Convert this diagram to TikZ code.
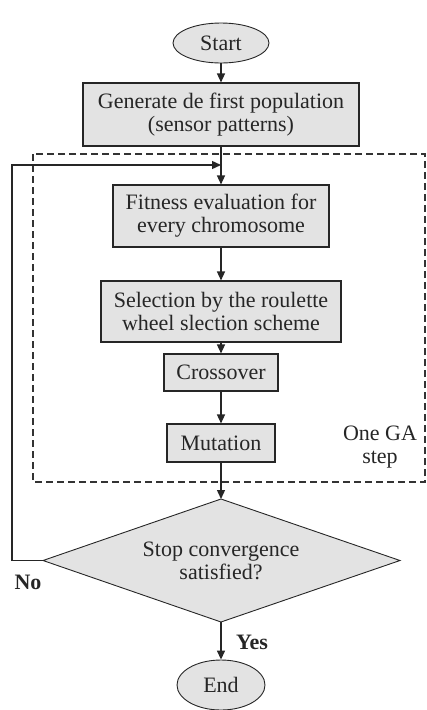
\documentclass[tikz,border=0pt]{standalone}
\usepackage{fontspec}
\setmainfont{Liberation Serif}
\usetikzlibrary{shapes.geometric,arrows.meta}
\begin{document}
\begin{tikzpicture}[x=1pt,y=-1pt,
  every node/.style={font=\fontsize{22}{23}\selectfont, text=black!85},
  proc/.style={draw=black!85, fill=black!11, line width=1.1pt, inner sep=0pt, align=center},
  term/.style={ellipse, draw=black!85, fill=black!11, line width=0.9pt, inner sep=0pt},
  conn/.style={draw=black!85, line width=1.4pt, -{Triangle[length=9pt,width=8pt]}},
  lbl/.style={font=\fontsize{22}{23}\selectfont\bfseries}]
\useasboundingbox (0,0) rectangle (426,710);
\draw[dash pattern=on 7pt off 4pt, line width=1.3pt, black!80] (33,154) rectangle (425,482);
\node[term, minimum width=96pt, minimum height=40pt] (start) at (221,43) {Start};
\node[proc, minimum width=276pt, minimum height=63pt] (gen) at (221,114.5) {Generate de first population\\(sensor patterns)};
\node[proc, minimum width=216pt, minimum height=62pt] (fit) at (221,216) {Fitness evaluation for\\every chromosome};
\node[proc, minimum width=240pt, minimum height=61pt] (sel) at (221,311.5) {Selection by the roulette\\wheel slection scheme};
\node[proc, minimum width=114pt, minimum height=37pt] (cross) at (221,372.5) {Crossover};
\node[proc, minimum width=108pt, minimum height=38pt] (mut) at (221,443) {Mutation};
\node[align=center] (ga) at (380,447) {One GA\\step};
\path[draw=black!85, fill=black!11, line width=0.9pt] (221,499) -- (400,560.5) -- (221,622) -- (43,560.5) -- cycle;
\coordinate (dtop) at (221,499);
\coordinate (dbot) at (221,622);
\coordinate (dleft) at (43,560.5);
\node[align=center] (stop) at (221,560.5) {Stop convergence\\satisfied?};
\node[term, minimum width=88pt, minimum height=50pt] (end) at (221,685) {End};
\node[lbl] (no) at (28,582) {No};
\node[lbl] (yes) at (252,642) {Yes};
\coordinate (merge) at (221,165);
\coordinate (cl) at (12,560.5);
\coordinate (ct) at (12,165);
\draw[conn] (start) -- (gen);
\draw[conn] (gen) -- (fit);
\draw[conn] (fit) -- (sel);
\draw[conn] (sel) -- (cross);
\draw[conn] (cross) -- (mut);
\draw[conn] (mut) -- (dtop);
\draw[conn] (dbot) -- (end);
\draw[conn] (dleft) -- (cl) -- (ct) -- (merge);
\end{tikzpicture}
\end{document}
